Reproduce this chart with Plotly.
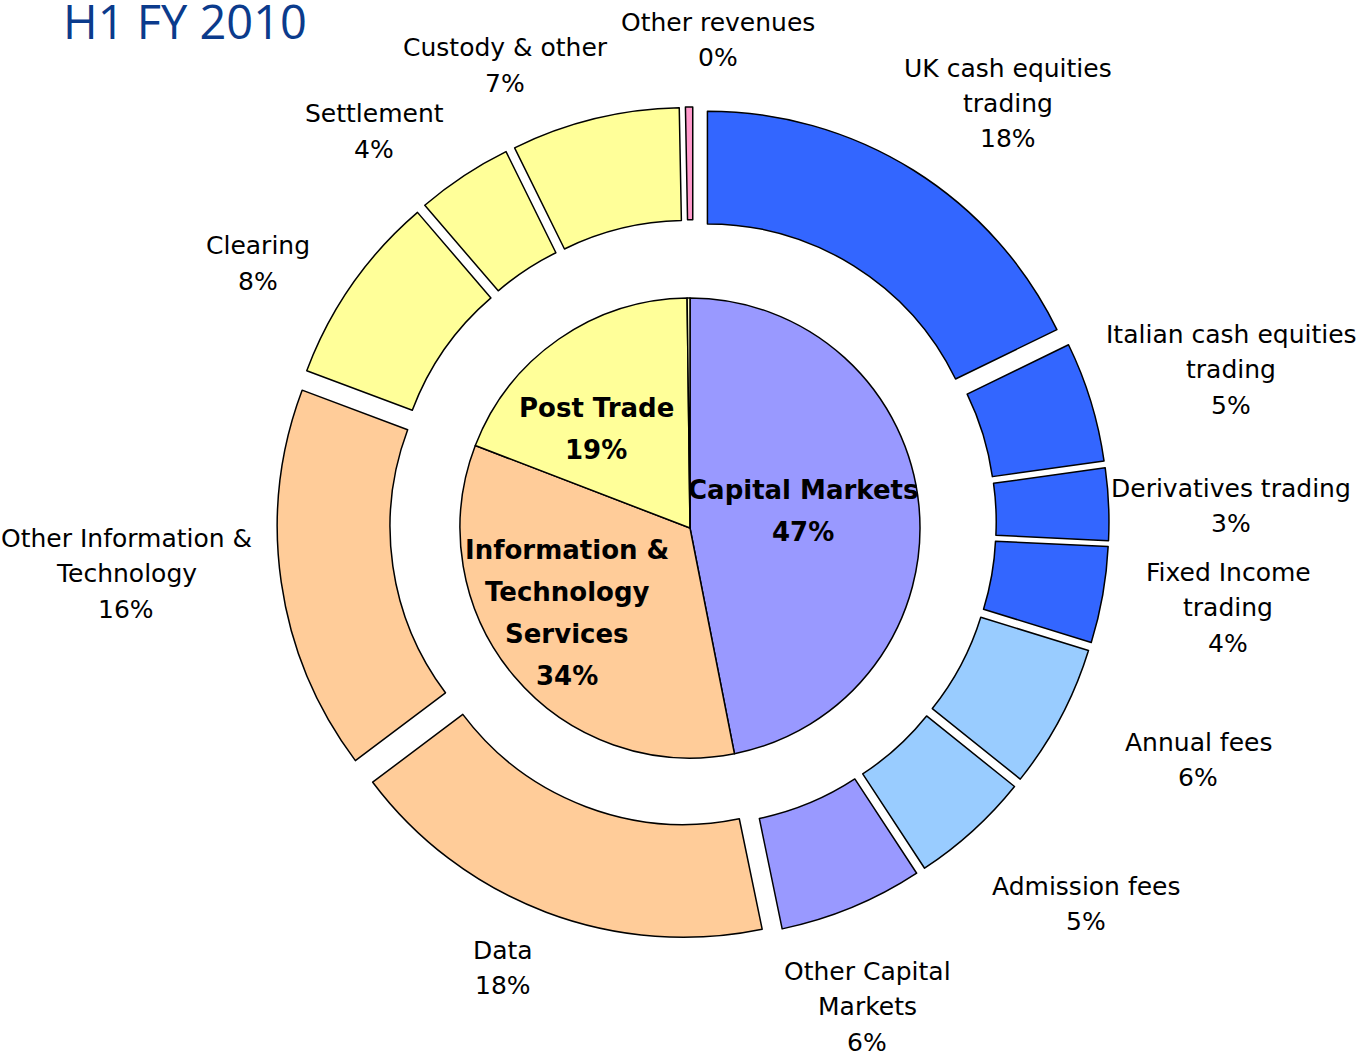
import plotly.graph_objects as go

W, H = 1357, 1056

# outer ring: revenue lines, clockwise from 12 o'clock
outer_labels = [
    "UK cash equities<br>trading", "Italian cash equities<br>trading", "Derivatives trading",
    "Fixed Income<br>trading", "Annual fees", "Admission fees", "Other Capital<br>Markets",
    "Data", "Other Information &<br>Technology", "Clearing", "Settlement",
    "Custody & other", "Other revenues",
]
outer_values = [17.8, 5, 3, 4, 6, 5, 6, 18, 16, 8, 4, 7, 0.3]
outer_pct = ["18%", "5%", "3%", "4%", "6%", "5%", "6%", "18%", "16%", "8%", "4%", "7%", "0%"]

# inner pie: divisions
inner_labels = ["Capital Markets", "Information &<br>Technology<br>Services", "Post Trade", "Other revenues"]
inner_values = [47, 34, 19, 0.2]
inner_pct = ["47%", "34%", "19%", ""]

BLUE = "#3366FF"
LIGHTBLUE = "#99CCFF"
LAVENDER = "#9999FF"
PEACH = "#FFCC99"
YELLOW = "#FFFF99"
PINK = "#FF99CC"

outer_colors = [BLUE, BLUE, BLUE, BLUE, LIGHTBLUE, LIGHTBLUE, LAVENDER,
                PEACH, PEACH, YELLOW, YELLOW, YELLOW, PINK]
inner_colors = [LAVENDER, PEACH, YELLOW, "#FFFFCC"]

# label anchor (centre of first line) in pixels
outer_pos = [(1008, 68), (1231, 334), (1231, 488), (1228, 572), (1198, 742),
             (1086, 886), (867, 971), (503, 950), (126, 538), (258, 246),
             (374, 114), (505, 48), (718, 22)]
inner_pos = [(803, 490), (567, 550), (596, 408), None]


def px(x):
    return x / W


def py(y):
    return 1 - y / H


def dom(x0, x1, y0, y1):
    return dict(x=[px(x0), px(x1)], y=[py(y1), py(y0)])


fig = go.Figure()
fig.add_trace(go.Pie(
    values=outer_values, labels=[l.replace("<br>", " ") for l in outer_labels],
    marker=dict(colors=outer_colors, line=dict(color="black", width=1.5)),
    hole=0.71, pull=0.07, sort=False, direction="clockwise", rotation=0,
    textinfo="none", hoverinfo="label+percent", showlegend=False,
    domain=dom(693 - 416, 693 + 416, 523 - 416, 523 + 416),
))
fig.add_trace(go.Pie(
    values=inner_values, labels=[l.replace("<br>", " ") for l in inner_labels],
    marker=dict(colors=inner_colors, line=dict(color="black", width=1.5)),
    sort=False, direction="clockwise", rotation=0,
    textinfo="none", hoverinfo="label+percent", showlegend=False,
    domain=dom(460, 920, 298, 758),
))

ann = []


def add_lines(lines, pos, step, font):
    x, y = pos
    for i, t in enumerate(lines):
        ann.append(dict(
            x=px(x), y=py(y + i * step), xref="paper", yref="paper",
            text=t, showarrow=False, xanchor="center", yanchor="middle",
            font=font,
        ))


lab_font = dict(family="DejaVu Sans", size=25, color="black")
for lab, pct, pos in zip(outer_labels, outer_pct, outer_pos):
    add_lines(lab.split("<br>") + [pct], pos, 35.5, lab_font)

bold_font = dict(family="DejaVu Sans", size=26, color="black", weight="bold")
for lab, pct, pos in zip(inner_labels, inner_pct, inner_pos):
    if pos is None:
        continue
    add_lines(lab.split("<br>") + [pct], pos, 42, bold_font)

ann.append(dict(
    x=px(61), y=py(21), xref="paper", yref="paper", text="H1 FY 2010",
    showarrow=False, xanchor="left", yanchor="middle",
    font=dict(family="Open Sans", size=47, color="#0B3B8C"),
))

fig.update_layout(
    width=W, height=H,
    paper_bgcolor="white", plot_bgcolor="white",
    margin=dict(t=0, b=0, l=0, r=0),
    annotations=ann,
)
# drop the default page margin so the figure sits at the window's corner
fig.write_html("out.html", config={"displayModeBar": False},
               post_script="document.body.style.margin='0';")
